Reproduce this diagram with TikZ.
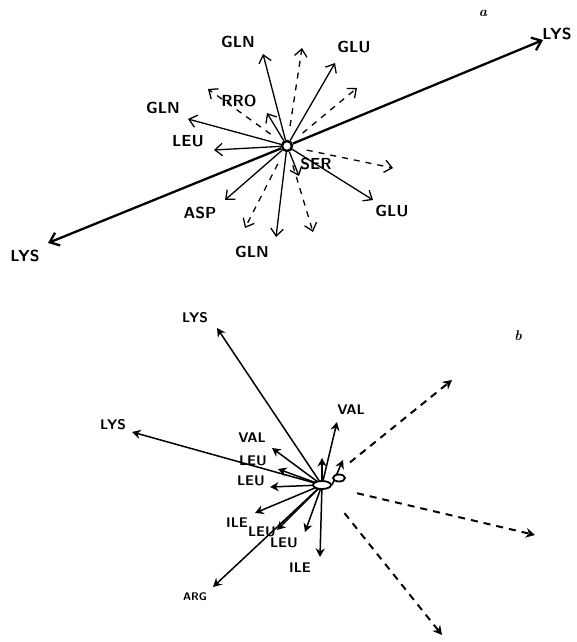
\documentclass[tikz,border=0pt]{standalone}
\usepackage{tikz}
\usetikzlibrary{arrows.meta}

\begin{document}
\begin{tikzpicture}[
  x=1pt, y=-1pt,
  laba/.style={font=\sffamily\bfseries\fontsize{16}{16}\selectfont, inner sep=1pt},
  labb/.style={font=\sffamily\bfseries\fontsize{14}{14}\selectfont, inner sep=1pt},
  panel/.style={font=\bfseries\itshape\fontsize{14}{14}\selectfont, inner sep=1pt},
  arr/.style={-{Straight Barb[length=2.6mm, width=4.4mm, line width=1.3pt]}, line width=1.3pt},
  arrd/.style={arr, dash pattern=on 6pt off 6pt, shorten <=14pt},
  longarr/.style={-{Straight Barb[length=3mm, width=4.8mm]}, line width=2.3pt},
  arrb/.style={-{Stealth[length=3mm, width=3.2mm]}, line width=1.5pt},
  arrbd/.style={-{Stealth[length=3.2mm, width=3.4mm]}, line width=2pt, dash pattern=on 7pt off 6pt, shorten <=36pt}
]
\useasboundingbox (0,0) rectangle (576,642);

% ---------- Panel a ----------
\node[panel] (pa) at (483,13) {a};
\node[circle, draw, line width=2.4pt, fill=white, minimum size=10pt, inner sep=0pt] (ca) at (287,146) {};

\coordinate (ta-lysr) at (543,40);
\coordinate (ta-lysl) at (48,243);
\coordinate (ta-glnt) at (263,54);
\coordinate (ta-glut) at (335,63);
\coordinate (ta-pro)  at (267,113);
\coordinate (ta-glnl) at (188,119);
\coordinate (ta-leu)  at (214,150);
\coordinate (ta-ser)  at (299,176);
\coordinate (ta-asp)  at (225,200);
\coordinate (ta-glnb) at (276,237);
\coordinate (ta-glub) at (373,200);

\draw[longarr] (ca) -- (ta-lysr);
\draw[longarr] (ca) -- (ta-lysl);
\draw[arr] (ca) -- (ta-glnt);
\draw[arr] (ca) -- (ta-glut);
\draw[arr] (ca) -- (ta-pro);
\draw[arr] (ca) -- (ta-glnl);
\draw[arr] (ca) -- (ta-leu);
\draw[arr] (ca) -- (ta-ser);
\draw[arr] (ca) -- (ta-asp);
\draw[arr] (ca) -- (ta-glnb);
\draw[arr] (ca) -- (ta-glub);

% dashed ones
\coordinate (da1) at (302,48);
\coordinate (da2) at (357,88);
\coordinate (da3) at (208,89);
\coordinate (da4) at (393,168);
\coordinate (da5) at (245,228);
\coordinate (da6) at (313,232);
\draw[arrd] (ca) -- (da1);
\draw[arrd] (ca) -- (da2);
\draw[arrd] (ca) -- (da3);
\draw[arrd] (ca) -- (da4);
\draw[arrd] (ca) -- (da5);
\draw[arrd] (ca) -- (da6);

\node[laba] (la-lysr) at (557,34) {LYS};
\node[laba] (la-lysl) at (25,256) {LYS};
\node[laba] (la-glnt) at (238,42) {GLN};
\node[laba] (la-glut) at (354,47) {GLU};
\node[laba] (la-pro)  at (239,101) {RRO};
\node[laba] (la-glnl) at (163,108) {GLN};
\node[laba] (la-leu)  at (188,141) {LEU};
\node[laba] (la-ser)  at (316,164) {SER};
\node[laba] (la-asp)  at (200,213) {ASP};
\node[laba] (la-glub) at (392,211) {GLU};
\node[laba] (la-glnb) at (252,252) {GLN};

% ---------- Panel b ----------
\node[panel] (pb) at (518,336) {b};
\coordinate (cb) at (322,485);

\coordinate (tb-lyst) at (217,328);
\coordinate (tb-lysl) at (132,432);
\coordinate (tb-valt) at (337,422);
\coordinate (tb-vall) at (272,448);
\coordinate (tb-leu1) at (278,469);
\coordinate (tb-leu2) at (270,487);
\coordinate (tb-ile1) at (255,513);
\coordinate (tb-leu3) at (277,530);
\coordinate (tb-leu4) at (305,532);
\coordinate (tb-arg)  at (213,587);
\coordinate (tb-ile2) at (320,557);
\coordinate (tb-s1)   at (343,460);
\coordinate (tb-s2)   at (322,458);

\draw[arrb] (cb) -- (tb-lyst);
\draw[arrb] (cb) -- (tb-lysl);
\draw[arrb] (cb) -- (tb-valt);
\draw[arrb] (cb) -- (tb-vall);
\draw[arrb] (cb) -- (tb-leu1);
\draw[arrb] (cb) -- (tb-leu2);
\draw[arrb] (cb) -- (tb-ile1);
\draw[arrb] (cb) -- (tb-leu3);
\draw[arrb] (cb) -- (tb-leu4);
\draw[arrb] (cb) -- (tb-arg);
\draw[arrb] (cb) -- (tb-ile2);
\draw[arrb] ([xshift=10pt]cb) -- (tb-s1);
\draw[arrb] (cb) -- (tb-s2);

\coordinate (db1) at (452,380);
\coordinate (db2) at (535,535);
\coordinate (db3) at (442,635);
\draw[arrbd] (cb) -- (db1);
\draw[arrbd] (cb) -- (db2);
\draw[arrbd] (cb) -- (db3);

% blob in the middle
\draw[line width=1.8pt, fill=white] (cb) ellipse [x radius=9pt, y radius=4pt];
\draw[line width=1.8pt, fill=white] (339,478) ellipse [x radius=6pt, y radius=3.5pt];

\node[labb] (lb-lyst) at (195,318) {LYS};
\node[labb] (lb-lysl) at (113,425) {LYS};
\node[labb] (lb-valt) at (351,410) {VAL};
\node[labb] (lb-vall) at (252,438) {VAL};
\node[labb] (lb-leu1) at (253,461) {LEU};
\node[labb] (lb-leu2) at (251,481) {LEU};
\node[labb] (lb-ile1) at (237,523) {ILE};
\node[labb] (lb-leu3) at (262,532) {LEU};
\node[labb] (lb-leu4) at (284,543) {LEU};
\node[labb] (lb-ile2) at (300,568) {ILE};
\node[labb, font=\sffamily\bfseries\fontsize{11}{11}\selectfont] (lb-arg) at (195,597) {ARG};
\end{tikzpicture}
\end{document}
